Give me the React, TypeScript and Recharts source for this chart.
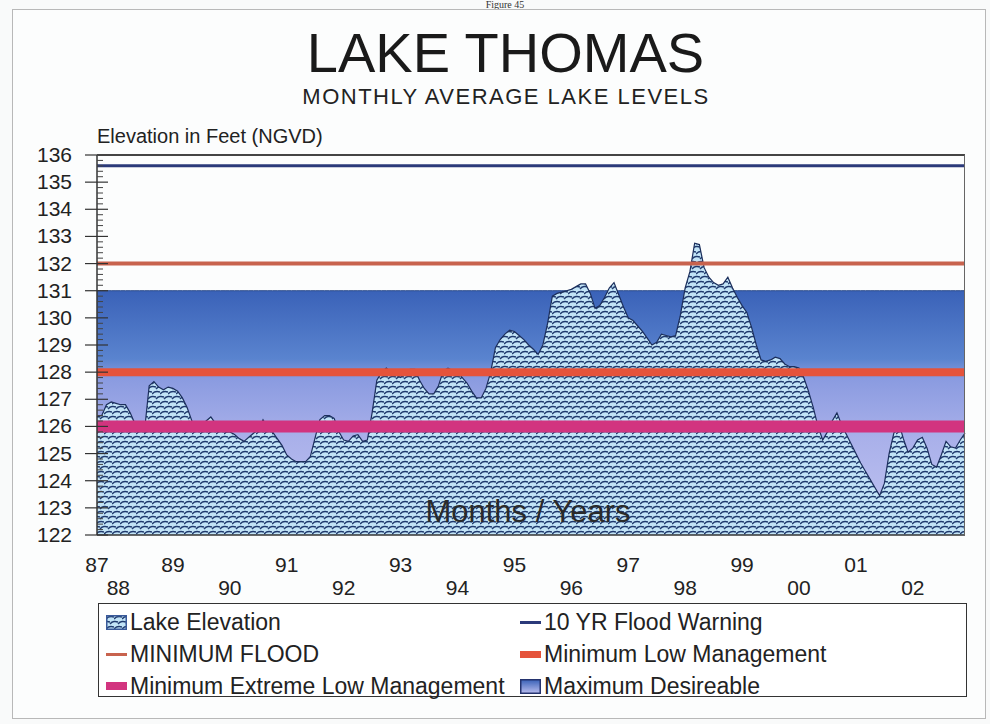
import React from 'react';
import { ComposedChart, Area, Line, XAxis, YAxis } from 'recharts';

// monthly averages, Sep 1987 .. Dec 2002 (feet NGVD)
const lakeElevation = [
  126.35, 126.4, 126.8, 126.9, 126.85, 126.8, 126.8, 126.5, 126.1, 125.9,
  125.8, 127.5, 127.65, 127.45, 127.35, 127.45, 127.4, 127.3, 127.05, 126.7,
  126.2, 126.05, 126.05, 126.2, 126.35, 126.1, 125.9, 125.8, 125.8, 125.7,
  125.55, 125.45, 125.6, 125.75, 125.9, 126.25, 125.95, 125.8, 125.55, 125.3,
  124.95, 124.8, 124.7, 124.7, 124.7, 124.9, 125.6, 126.25, 126.4, 126.4,
  126.3, 125.8, 125.5, 125.45, 125.65, 125.7, 125.45, 125.5, 126.5, 127.7,
  128.0, 128.15, 128.0, 127.9, 127.8, 127.95, 128.1, 128.1, 127.7, 127.4,
  127.2, 127.2, 127.5, 128.05, 128.15, 128.05, 128.0, 127.8, 127.6, 127.3,
  127.05, 127.05, 127.4, 128.0, 128.9, 129.2, 129.4, 129.55, 129.5, 129.35,
  129.2, 129.0, 128.85, 128.65, 129.0, 129.8, 130.8, 130.9, 130.95, 131.0,
  131.05, 131.15, 131.25, 131.25, 130.9, 130.35, 130.45, 130.75, 131.1, 131.3,
  130.85, 130.4, 130.0, 129.9, 129.7, 129.5, 129.25, 129.0, 129.1, 129.4,
  129.35, 129.3, 129.35, 130.1, 131.1, 131.7, 132.75, 132.7, 131.85, 131.5,
  131.3, 131.2, 131.25, 131.5, 131.1, 130.75, 130.45, 130.2, 129.65, 129.0,
  128.45, 128.4, 128.45, 128.55, 128.5, 128.3, 128.2, 128.2, 128.15, 127.8,
  127.3, 126.7, 126.0, 125.5, 125.8, 126.2, 126.5, 126.05, 125.7, 125.35,
  125.0, 124.65, 124.35, 124.05, 123.75, 123.45, 123.9, 125.0, 125.75, 126.15,
  125.55, 125.05, 125.2, 125.5, 125.6, 125.2, 124.6, 124.5, 124.95, 125.45,
  125.25, 125.2, 125.5, 125.75,
];

const FLOOD_WARNING_10YR = 135.6;
const MINIMUM_FLOOD = 132;
const MIN_LOW_MGMT = 128;
const MIN_EXTREME_LOW_MGMT = 126;
const MAX_DESIRABLE = 131;

// x tick positions (month index) and their year labels
const yearTicks = [0, 4.5, 16, 28, 40, 52, 64, 76, 88, 100, 112, 124, 136, 148, 160, 172];
const yearLabels = ['87', '88', '89', '90', '91', '92', '93', '94', '95', '96', '97', '98', '99', '00', '01', '02'];

const yTicks = Array.from({ length: 71 }, (_, i) => Math.round((122 + i * 0.2) * 10) / 10);

const data = lakeElevation.map((v, i) => ({
  m: i,
  lake: v,
  maxDesire: MAX_DESIRABLE,
  flood10: FLOOD_WARNING_10YR,
  minFlood: MINIMUM_FLOOD,
  minLow: MIN_LOW_MGMT,
  minExtreme: MIN_EXTREME_LOW_MGMT,
}));

const FONT = '"Liberation Sans", Arial, sans-serif';

function YTick({ x, y, payload }: any) {
  const v = payload.value;
  const major = Math.abs(v - Math.round(v)) < 1e-6;
  if (!major) {
    return <line x1={x} x2={x + 6} y1={y} y2={y} stroke="#444" strokeWidth={1} />;
  }
  return (
    <g>
      <line x1={x - 12} x2={x + 11} y1={y} y2={y} stroke="#333" strokeWidth={1.2} />
      <text x={x - 25} y={y} dy={7} textAnchor="end" fontSize={21} fill="#222" fontFamily={FONT}>
        {Math.round(v)}
      </text>
    </g>
  );
}

function XTick({ x, y, payload }: any) {
  const idx = yearTicks.indexOf(payload.value);
  if (idx < 0) return null;
  const row = idx % 2;
  return (
    <text x={x} y={y + (row ? 60 : 37)} textAnchor="middle" fontSize={21} fill="#222" fontFamily={FONT}>
      {yearLabels[idx]}
    </text>
  );
}

function HatchPattern({ id }: { id: string }) {
  return (
    <pattern id={id} patternUnits="userSpaceOnUse" width={8} height={10}>
      <rect width={8} height={10} fill="#c2e4f7" />
      <path d="M0 4 C2 1.5 5 1 8 2" stroke="#1f3a6e" strokeWidth={1.4} fill="none" />
      <path d="M-4 9 C-2 6.5 1 6 4 7 M4 9 C6 6.5 9 6 12 7" stroke="#1f3a6e" strokeWidth={1.4} fill="none" />
    </pattern>
  );
}

function Swatch({ kind }: { kind: string }) {
  if (kind === 'hatch') {
    return (
      <svg width={21} height={15} style={{ display: 'block' }}>
        <defs>
          <HatchPattern id="legHatch" />
        </defs>
        <rect x={0.75} y={0.75} width={19.5} height={13.5} fill="url(#legHatch)" stroke="#3a5a9a" strokeWidth={1.5} />
      </svg>
    );
  }
  if (kind === 'grad') {
    return (
      <svg width={21} height={15} style={{ display: 'block' }}>
        <defs>
          <linearGradient id="legGrad" x1="0" y1="0" x2="0" y2="1">
            <stop offset="0%" stopColor="#3a62b8" />
            <stop offset="100%" stopColor="#b9bdee" />
          </linearGradient>
        </defs>
        <rect x={0.75} y={0.75} width={19.5} height={13.5} fill="url(#legGrad)" stroke="#24336e" strokeWidth={1.5} />
      </svg>
    );
  }
  const spec: Record<string, [string, number]> = {
    flood10: ['#2b3a7a', 3],
    minFlood: ['#c8634e', 3],
    minLow: ['#e5533b', 7],
    minExtreme: ['#d2347f', 8],
  };
  const [c, h] = spec[kind];
  return <div style={{ width: 21, height: h, background: c }} />;
}

const legendItems = [
  { label: 'Lake Elevation', kind: 'hatch', col: 0, row: 0 },
  { label: '10 YR Flood Warning', kind: 'flood10', col: 1, row: 0 },
  { label: 'MINIMUM FLOOD', kind: 'minFlood', col: 0, row: 1 },
  { label: 'Minimum Low Management', kind: 'minLow', col: 1, row: 1 },
  { label: 'Minimum Extreme Low Management', kind: 'minExtreme', col: 0, row: 2 },
  { label: 'Maximum Desireable', kind: 'grad', col: 1, row: 2 },
];

export default function App() {
  return (
    <div style={{ position: 'absolute', left: 0, top: 0, width: 990, height: 724, background: '#f9fafa', overflow: 'hidden', fontFamily: FONT }}>
      <div style={{ position: 'absolute', left: 0, top: 0, width: 1010, textAlign: 'center', fontFamily: '"Liberation Serif", serif', fontSize: 10, lineHeight: '9px', color: '#333' }}>
        Figure 45
      </div>
      <div style={{ position: 'absolute', left: 12, top: 9, width: 972, height: 708, border: '1px solid #b8b8b8', background: '#fcfdfd' }} />
      <div style={{ position: 'absolute', left: 0, top: 27, width: 1011, textAlign: 'center', fontSize: 56, lineHeight: '52px', color: '#1a1a1a' }}>
        LAKE THOMAS
      </div>
      <div style={{ position: 'absolute', left: 0, top: 86, width: 1012, textAlign: 'center', fontSize: 22, lineHeight: '22px', letterSpacing: 1.5, color: '#222' }}>
        MONTHLY AVERAGE LAKE LEVELS
      </div>
      <div style={{ position: 'absolute', left: 97, top: 126, fontSize: 20, lineHeight: '20px', color: '#222' }}>
        Elevation in Feet (NGVD)
      </div>

      <div style={{ position: 'absolute', left: 0, top: 0 }}>
        <ComposedChart width={990} height={620} data={data} margin={{ top: 155, right: 25, bottom: 15, left: 0 }}>
          <defs>
            <HatchPattern id="lakeHatch" />
            <linearGradient id="maxGrad" x1="0" y1="0" x2="0" y2="1">
              <stop offset="0%" stopColor="#3a62b8" />
              <stop offset="28%" stopColor="#5a84cf" />
              <stop offset="36%" stopColor="#8a9be0" />
              <stop offset="60%" stopColor="#a9b0ea" />
              <stop offset="100%" stopColor="#c2c5f1" />
            </linearGradient>
          </defs>
          <XAxis
            dataKey="m"
            type="number"
            domain={[0, 183]}
            ticks={yearTicks}
            interval={0}
            tick={<XTick />}
            tickLine={false}
            tickSize={0}
            tickMargin={0}
            height={70}
            axisLine={{ stroke: '#333', strokeWidth: 1.5 }}
          />
          <YAxis
            type="number"
            domain={[122, 136]}
            ticks={yTicks}
            interval={0}
            tick={<YTick />}
            tickLine={false}
            tickSize={0}
            tickMargin={0}
            width={97}
            axisLine={{ stroke: '#333', strokeWidth: 1.5 }}
            allowDataOverflow
          />
          <Area type="linear" dataKey="maxDesire" fill="url(#maxGrad)" fillOpacity={1} stroke="#2a4a8a" strokeWidth={1} isAnimationActive={false} dot={false} activeDot={false} />
          <Area type="linear" dataKey="lake" fill="url(#lakeHatch)" fillOpacity={1} stroke="#1c2f5c" strokeWidth={1.2} isAnimationActive={false} dot={false} activeDot={false} />
          <Line type="linear" dataKey="flood10" stroke="#2b3a7a" strokeWidth={3} dot={false} activeDot={false} isAnimationActive={false} />
          <Line type="linear" dataKey="minFlood" stroke="#c8634e" strokeWidth={4} dot={false} activeDot={false} isAnimationActive={false} />
          <Line type="linear" dataKey="minLow" stroke="#e5533b" strokeWidth={8} dot={false} activeDot={false} isAnimationActive={false} />
          <Line type="linear" dataKey="minExtreme" stroke="#d2347f" strokeWidth={12} dot={false} activeDot={false} isAnimationActive={false} />
        </ComposedChart>
      </div>

      {/* plot frame: top and right edges */}
      <div style={{ position: 'absolute', left: 97, top: 154, width: 867, height: 380, borderTop: '2px solid #444', borderRight: '1.5px solid #666', pointerEvents: 'none' }} />

      <div style={{ position: 'absolute', left: 0, top: 496, width: 1056, textAlign: 'center', fontSize: 31, lineHeight: '31px', color: '#2a2a2a' }}>
        Months / Years
      </div>

      <div style={{ position: 'absolute', left: 98, top: 603, width: 869, height: 94, border: '1.5px solid #333', background: '#fff', boxSizing: 'border-box' }}>
        {legendItems.map((it) => (
          <div
            key={it.label}
            style={{ position: 'absolute', left: it.col ? 421 : 7, top: 4 + it.row * 32, height: 28, display: 'flex', alignItems: 'center', gap: 3, fontSize: 23, color: '#222', whiteSpace: 'nowrap' }}
          >
            <Swatch kind={it.kind} />
            <span>{it.label}</span>
          </div>
        ))}
      </div>
    </div>
  );
}
